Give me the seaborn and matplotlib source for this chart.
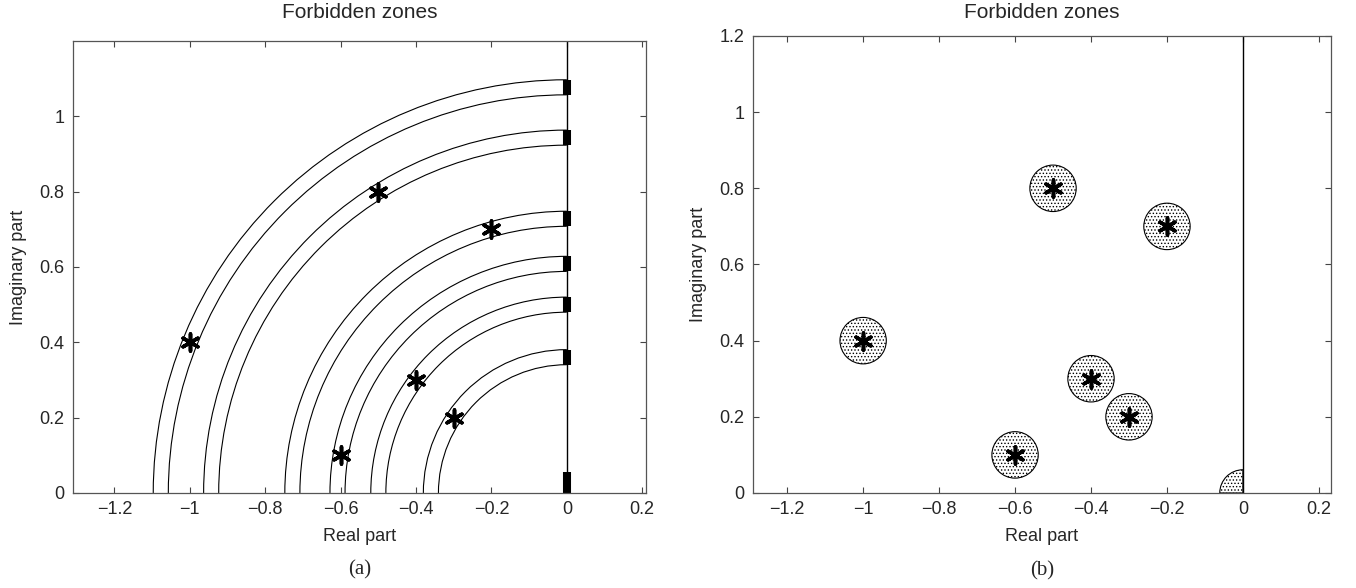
import numpy as np
import pandas as pd
import matplotlib
matplotlib.use("Agg")
import matplotlib.pyplot as plt
from matplotlib.patches import Arc, Circle, Wedge
import seaborn as sns

sns.set_style("ticks")
plt.rcParams['font.family'] = ['Liberation Sans', 'DejaVu Sans']
plt.rcParams['hatch.linewidth'] = 0.6
plt.rcParams['xtick.direction'] = 'in'
plt.rcParams['ytick.direction'] = 'in'

# closed-loop poles (real / imaginary part)
pole_real = [-1.0, -0.5, -0.2, -0.6, -0.4, -0.3]
pole_imag = [0.4, 0.8, 0.7, 0.1, 0.3, 0.2]
# half width of the annular zones in (a), radius of the disc zones in (b)
band_half = 0.02
disc_radius = 0.061
origin_band = 0.055

df = pd.DataFrame({"re": pole_real, "im": pole_imag})
df["mag"] = np.hypot(df.re, df.im)

fig = plt.figure(figsize=(13.56, 5.88), dpi=100)
ax1 = fig.add_axes([0.0538, 0.1616, 0.4226, 0.7687])
ax2 = fig.add_axes([0.5553, 0.1616, 0.4263, 0.7772])

# (a) annular forbidden zones
for r in df.mag:
    for rr in (r + band_half, r - band_half):
        ax1.add_patch(Arc((0, 0), 2 * rr, 2 * rr, theta1=90, theta2=180,
                          color='black', lw=0.8))
ax1.axvline(0, color='black', lw=1)
ax1.vlines([0] * len(df), df.mag - band_half, df.mag + band_half,
           color='black', lw=5.8, capstyle='butt')
ax1.vlines([0], [0], [origin_band], color='black', lw=5.8, capstyle='butt')
ax1.set_xlim(-1.31, 0.21)
ax1.set_ylim(0, 1.2)
ax1.set_yticks([0, 0.2, 0.4, 0.6, 0.8, 1.0])

# (b) disc forbidden zones
for re, im in zip(df.re, df.im):
    ax2.add_patch(Circle((re, im), disc_radius, facecolor='white', edgecolor='black',
                         hatch='.....', lw=0.8))
ax2.add_patch(Wedge((0, 0), disc_radius, 90, 180, facecolor='white', edgecolor='black',
                    hatch='.....', lw=0.8))
ax2.axvline(0, color='black', lw=1)
ax2.set_xlim(-1.29, 0.232)
ax2.set_ylim(0, 1.2)
ax2.set_yticks([0, 0.2, 0.4, 0.6, 0.8, 1.0, 1.2])

for ax, tag in ((ax1, "(a)"), (ax2, "(b)")):
    sns.scatterplot(data=df, x="re", y="im", ax=ax, marker=(6, 2, 0), s=150,
                    color='black', linewidth=2.6, zorder=5, legend=False)
    ax.set_xticks([-1.2, -1, -0.8, -0.6, -0.4, -0.2, 0, 0.2])
    ax.set_xticklabels(["\u22121.2", "\u22121", "\u22120.8", "\u22120.6",
                        "\u22120.4", "\u22120.2", "0", "0.2"])
    ax.set_yticklabels([("%g" % v) for v in ax.get_yticks()])
    ax.tick_params(top=True, right=True, length=4, width=0.8, labelsize=13,
                   color='#444444', pad=6)
    for s in ax.spines.values():
        s.set_color('#555555')
        s.set_linewidth(0.9)
    ax.set_xlabel("Real part", fontsize=13, labelpad=7)
    ax.set_ylabel("Imaginary part", fontsize=13, labelpad=9)
    ax.text(0.5, -0.17, tag, transform=ax.transAxes, ha='center', va='center',
            fontsize=15, family=['Liberation Serif'])
    # titles of both panels sit on the same line near the top of the figure
    cx = ax.get_position().x0 + ax.get_position().width / 2
    fig.text(cx, 1 - 13 / 588, "Forbidden zones", ha='center', va='center', fontsize=15)

plt.savefig("out.png", dpi=100)
